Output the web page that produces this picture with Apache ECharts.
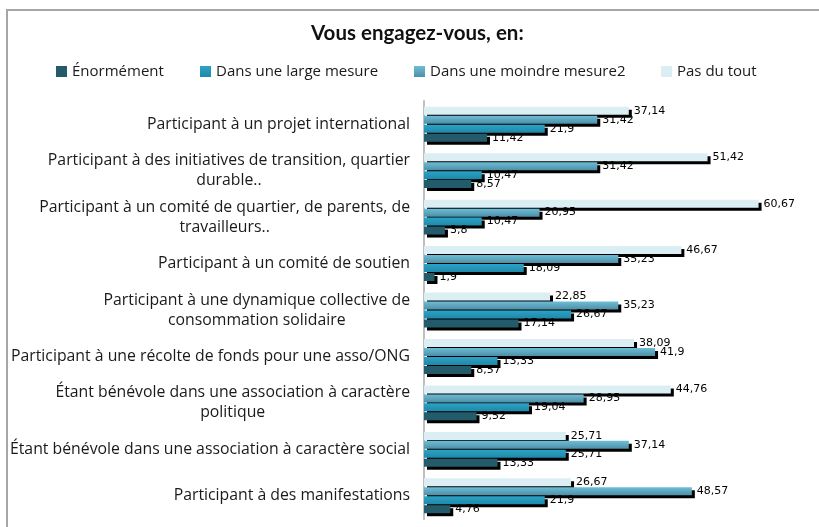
<!DOCTYPE html>
<html lang="fr">
<head>
    <meta charset="UTF-8">
    <title>Vous engagez-vous, en:</title>
    <script src="https://cdn.jsdelivr.net/npm/echarts@6/dist/echarts.min.js"></script>
    <style>
        html, body { margin: 0; padding: 0; background: #fff; }
    </style>
</head>
<body>
    <div id="dv" style="width:819px;height:527px;"></div>
</body>
<script>
   var categories = [
       'Participant à un projet international',
       'Participant à des initiatives de transition, quartier\ndurable..',
       'Participant à un comité de quartier, de parents, de\ntravailleurs..',
       'Participant à un comité de soutien',
       'Participant à une dynamique collective de\nconsommation solidaire',
       'Participant à une récolte de fonds pour une asso/ONG',
       'Étant bénévole dans une association à caractère\npolitique',
       'Étant bénévole dans une association à caractère social',
       'Participant à des manifestations'
   ]
   var seriesNames = ['Énormément', 'Dans une large mesure', 'Dans une moindre mesure2', 'Pas du tout']
   var enormement = [11.42, 8.57, 3.8, 1.9, 17.14, 8.57, 9.52, 13.33, 4.76]
   var largeMesure = [21.9, 10.47, 10.47, 18.09, 26.67, 13.33, 19.04, 25.71, 21.9]
   var moindreMesure = [31.42, 31.42, 20.95, 35.23, 35.23, 41.9, 28.95, 37.14, 48.57]
   var pasDuTout = [37.14, 51.42, 60.67, 46.67, 22.85, 38.09, 44.76, 25.71, 26.67]

   function grad(top, bottom) {
       return new echarts.graphic.LinearGradient(0, 0, 0, 1, [
           { offset: 0, color: top },
           { offset: 1, color: bottom }
       ])
   }
   var fills = [
       '#235b6b',
       grad('#2ba3c6', '#1f88a9'),
       grad('#6dbdd6', '#4e8fa7'),
       '#dbeef4'
   ]
   var values = [enormement, largeMesure, moindreMesure, pasDuTout]

   // top bar in each group is "Pas du tout", so build series in reverse
   var series = []
   for (var i = 3; i >= 0; i--) {
       series.push({
           name: seriesNames[i],
           type: 'bar',
           barWidth: 8,
           barGap: '12%',
           itemStyle: {
               color: fills[i],
               shadowColor: '#000',
               shadowBlur: 0,
               shadowOffsetX: 3,
               shadowOffsetY: 3
           },
           label: {
               show: true,
               position: 'right',
               distance: 5,
               fontFamily: 'DejaVu Sans',
               fontSize: 11,
               color: '#000',
               formatter: function (p) { return String(p.value).replace('.', ',') }
           },
           emphasis: { disabled: true },
           data: values[i]
       })
   }

   var legendX = [56, 200, 414, 661]
   var legends = seriesNames.map(function (n, i) {
       return {
           data: [n],
           left: legendX[i],
           top: 64,
           padding: 0,
           itemWidth: 11,
           itemHeight: 11,
           itemGap: 0,
           icon: 'rect',
           selectedMode: false,
           itemStyle: { shadowColor: 'transparent', shadowOffsetX: 0, shadowOffsetY: 0 },
           textStyle: {
               fontFamily: 'Open Sans',
               fontSize: 15,
               color: '#1a1a1a'
           }
       }
   })

   var myChart = echarts.init(document.getElementById('dv'))
   var option = {
       animation: false,
       title: {
           text: 'Vous engagez-vous, en:',
           left: 306,
           top: 18,
           textStyle: {
               fontFamily: 'Lato',
               fontWeight: 'bold',
               fontSize: 20.5,
               color: '#111'
           }
       },
       legend: legends,
       graphic: [{
           type: 'rect',
           shape: { x: 7, y: 10, width: 830, height: 540 },
           style: { fill: 'none', stroke: '#a6a6a6', lineWidth: 2 },
           silent: true
       }],
       grid: { left: 424, right: 9, top: 101, bottom: 8 },
       xAxis: {
           type: 'value',
           min: 0,
           max: 70,
           show: false
       },
       yAxis: {
           type: 'category',
           inverse: true,
           data: categories,
           axisLine: { lineStyle: { color: '#bfbfbf', width: 2 } },
           axisTick: { show: false },
           axisLabel: {
               margin: 14,
               fontFamily: 'Open Sans',
               fontSize: 15.8,
               lineHeight: 20,
               color: '#1a1a1a',
               formatter: function (v) {
                   return v.split('\n').map(function (s) { return '{a|' + s + '}' }).join('\n')
               },
               rich: {
                   a: {
                       align: 'center',
                       fontFamily: 'Open Sans',
                       fontSize: 15.8,
                       lineHeight: 20,
                       color: '#1a1a1a'
                   }
               }
           }
       },
       series: series
   }
   myChart.setOption(option)
</script>
</html>
